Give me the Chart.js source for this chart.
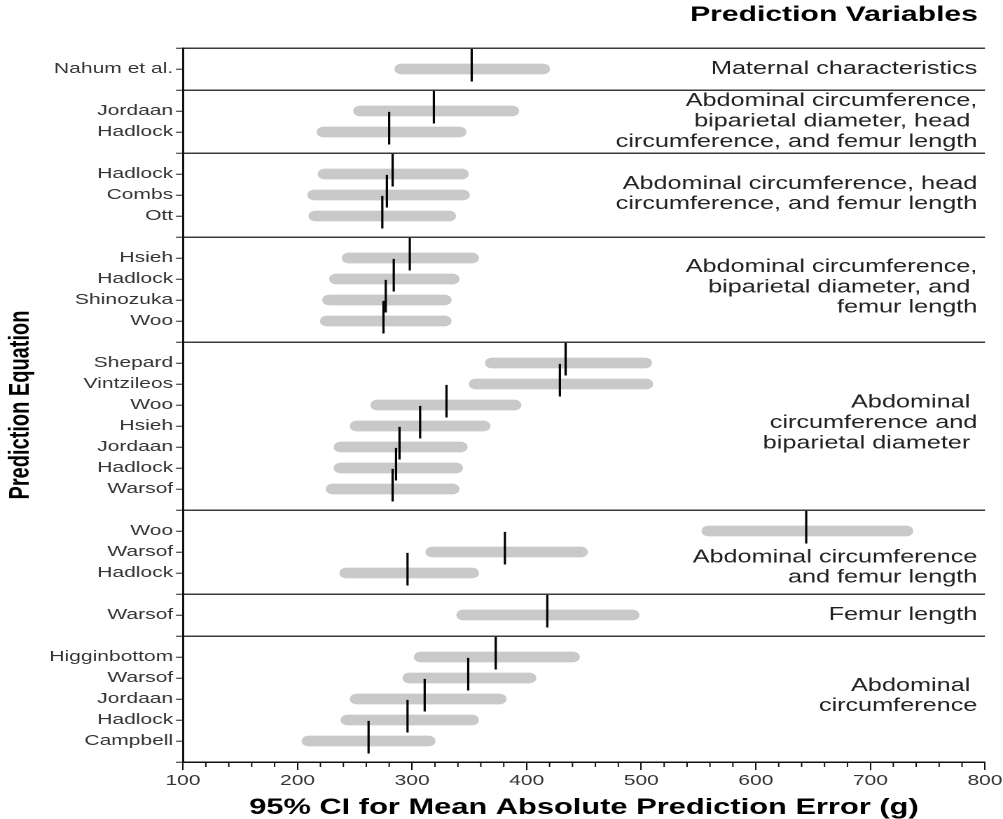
<!DOCTYPE html>
<html>
<head>
<meta charset="utf-8">
<script src="https://cdn.jsdelivr.net/npm/chart.js@4/dist/chart.umd.min.js"></script>
<style>
  html, body { margin: 0; padding: 0; background: #fff; }
</style>
</head>
<body>
<!-- the original picture is stretched sideways, so the canvas is drawn narrow and widened -->
<canvas id="chart" width="716" height="819" style="display:block;width:1003px;height:819px"></canvas>
<script>
const groupNames = [
  ["Maternal characteristics"],
  ["Abdominal circumference,", "biparietal diameter, head ", "circumference, and femur length"],
  ["Abdominal circumference, head", "circumference, and femur length"],
  ["Abdominal circumference,", "biparietal diameter, and ", "femur length"],
  ["Abdominal ", "circumference and", "biparietal diameter "],
  ["Abdominal circumference", "and femur length"],
  ["Femur length"],
  ["Abdominal ", "circumference"]
];

const equations = [
  "Nahum et al.",
  "Jordaan", "Hadlock",
  "Hadlock", "Combs", "Ott",
  "Hsieh", "Hadlock", "Shinozuka", "Woo",
  "Shepard", "Vintzileos", "Woo", "Hsieh", "Jordaan", "Hadlock", "Warsof",
  "Woo", "Warsof", "Hadlock",
  "Warsof",
  "Higginbottom", "Warsof", "Jordaan", "Hadlock", "Campbell"
];
const groupIndex = [0, 1, 1, 2, 2, 2, 3, 3, 3, 3, 4, 4, 4, 4, 4, 4, 4, 5, 5, 5, 6, 7, 7, 7, 7, 7];

// 95% CI bounds and mean absolute prediction error (g)
const ciLow = [285, 249, 217, 218, 209, 210, 239, 228, 222, 220, 364, 350, 264, 246, 232, 232, 225, 553, 312, 237, 339, 302, 292, 246, 238, 204];
const ciHigh = [420, 393, 347, 349, 350, 338, 358, 341, 334, 334, 509, 510, 395, 368, 348, 344, 341, 737, 453, 358, 498, 446, 408, 382, 358, 320];
const meanError = [352, 319, 280, 283, 278, 274, 298, 284, 277, 275, 434, 429, 330, 307, 289, 286, 283, 644, 381, 296, 418, 373, 349, 311, 296, 262];

const xMin = 100, xMax = 800, xMajor = 100, xMinor = 20;
const xTitle = "95% CI for Mean Absolute Prediction Error (g)";
const yTitle = "Prediction Equation";
const topTitle = "Prediction Variables";

// one slot per equation, with an empty slot between groups
const rowOf = [];
const rowLabels = [""];
const separatorRows = [0];
const groupRows = groupNames.map(() => []);
let row = 0;
equations.forEach((name, i) => {
  if (i > 0 && groupIndex[i] !== groupIndex[i - 1]) {
    row++;
    separatorRows.push(row);
    rowLabels[row] = "";
  }
  row++;
  rowOf.push(row);
  rowLabels[row] = name;
  groupRows[groupIndex[i]].push(row);
});
const rowMax = row + 1;

const ciData = equations.map((_, i) => ({ y: rowOf[i], x: [ciLow[i], ciHigh[i]] }));
const meanData = equations.map((_, i) => ({ x: meanError[i], y: rowOf[i] - 0.18 }));

const sans = '"Liberation Sans", Arial, Helvetica, sans-serif';

const annotate = {
  id: "annotate",
  afterDraw(chart) {
    const { ctx, chartArea } = chart;
    const x = chart.scales.x;
    const y = chart.scales.y;
    ctx.save();

    // short minor ticks on the x axis
    ctx.strokeStyle = "#111";
    ctx.lineWidth = 1;
    for (let v = xMin + xMinor; v < xMax; v += xMinor) {
      if (v % xMajor === 0) continue;
      const px = x.getPixelForValue(v);
      ctx.beginPath();
      ctx.moveTo(px, chartArea.bottom);
      ctx.lineTo(px, chartArea.bottom + 5);
      ctx.stroke();
    }

    // prediction variable labels on the right of each group
    const shift = [0, 0, -0.05, -0.1, -0.14, 0.74, 0, -0.14];
    ctx.font = "18px " + sans;
    ctx.fillStyle = "#222";
    ctx.textAlign = "right";
    ctx.textBaseline = "middle";
    groupNames.forEach((lines, g) => {
      const rows = groupRows[g];
      const mid = (rows[0] + rows[rows.length - 1]) / 2 + shift[g];
      const cy = y.getPixelForValue(mid);
      lines.forEach((t, k) => {
        ctx.fillText(t, chartArea.right - 5.5, cy + (k - (lines.length - 1) / 2) * 20.3);
      });
    });

    ctx.font = "bold 21.5px " + sans;
    ctx.fillStyle = "#000";
    ctx.fillText(topTitle, chartArea.right - 5, 15);
    ctx.restore();
  }
};

new Chart(document.getElementById("chart"), {
  type: "bar",
  data: {
    datasets: [
      {
        type: "bar",
        label: "95% CI",
        data: ciData,
        backgroundColor: "#c9c9c9",
        borderWidth: 0,
        borderRadius: 5,
        borderSkipped: false,
        barThickness: 10,
        order: 2
      },
      {
        type: "scatter",
        label: "Mean",
        data: meanData,
        pointStyle: "line",
        rotation: 90,
        radius: 16.3,
        hoverRadius: 16.3,
        borderColor: "#000",
        borderWidth: 1.6,
        order: 1
      }
    ]
  },
  options: {
    indexAxis: "y",
    responsive: false,
    devicePixelRatio: 2,
    animation: false,
    events: [],
    layout: { autoPadding: false, padding: { top: 48, right: 12.9, left: 0, bottom: 0 } },
    plugins: {
      legend: { display: false },
      tooltip: { enabled: false }
    },
    scales: {
      x: {
        type: "linear",
        position: "bottom",
        offset: false,
        min: xMin,
        max: xMax,
        border: { color: "#111", width: 1.5 },
        grid: {
          offset: false,
          drawOnChartArea: false,
          drawTicks: true,
          tickLength: 8,
          tickColor: "#111",
          tickWidth: 1
        },
        ticks: {
          stepSize: xMajor,
          autoSkip: false,
          maxRotation: 0,
          padding: 2,
          color: "#333",
          font: { family: sans, size: 15 }
        },
        title: {
          display: true,
          text: xTitle,
          color: "#000",
          font: { family: sans, size: 22, weight: "bold", lineHeight: 1 },
          padding: { top: 2, bottom: 0 }
        },
        afterFit(scale) {
          scale.height = 57;
          // the end labels fit inside the layout padding already
          scale.paddingLeft = 0;
          scale.paddingRight = 0;
        }
      },
      y: {
        type: "linear",
        offset: false,
        min: 0,
        max: rowMax,
        reverse: true,
        border: { color: "#111", width: 1.5 },
        grid: {
          offset: false,
          color: (c) => (c.tick && separatorRows.includes(c.tick.value)) ? "#3a3a3a" : "rgba(0,0,0,0)",
          lineWidth: 1.5,
          drawTicks: true,
          tickLength: 5,
          tickColor: "#333",
          tickWidth: 1.1
        },
        ticks: {
          stepSize: 1,
          autoSkip: false,
          padding: 2,
          color: "#333",
          font: { family: sans, size: 15 },
          callback: (v) => rowLabels[v] || ""
        },
        title: {
          display: true,
          text: yTitle,
          color: "#000",
          font: { family: sans, size: 20, weight: "bold", lineHeight: 1 },
          padding: { top: 5, bottom: 0 }
        },
        afterFit(scale) { scale.width = 130.6; }
      }
    }
  },
  plugins: [annotate]
});
</script>
</body>
</html>
